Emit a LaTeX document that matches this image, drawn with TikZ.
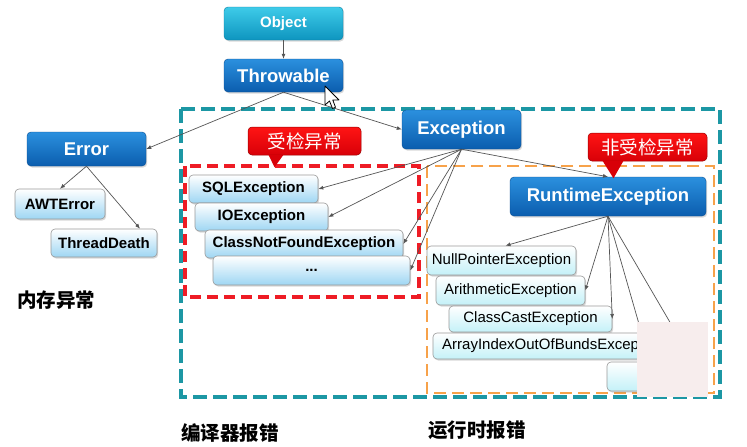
\documentclass[tikz,border=0pt]{standalone}
\usepackage{fontspec}
\setmainfont{Liberation Sans}
\newfontfamily\cjk{Noto Sans CJK SC}
\usetikzlibrary{arrows.meta,shadows,calc}

\definecolor{teal1}{HTML}{1C97A4}
\definecolor{red1}{HTML}{EE1C25}
\definecolor{orange1}{HTML}{F7A24A}
\definecolor{blueT}{HTML}{2B90DE}
\definecolor{blueB}{HTML}{0B5DAE}
\definecolor{cyanT}{HTML}{3ECBE9}
\definecolor{cyanB}{HTML}{0E95BF}
\definecolor{lbB}{HTML}{9ED6F3}
\definecolor{lcB}{HTML}{C4F1F8}
\definecolor{pinkc}{HTML}{F7EDED}
\definecolor{arr}{HTML}{555555}
\definecolor{calT}{HTML}{FF1414}
\definecolor{calB}{HTML}{D80008}
\definecolor{calD}{HTML}{9A0000}

\begin{document}
\begin{tikzpicture}[x=1pt,y=-1pt,
  shad/.style={drop shadow={shadow xshift=1.2pt, shadow yshift=-1.5pt, opacity=0.3}},
  bigbox/.style={rounded corners=4pt, top color=blueT, bottom color=blueB,
    draw=blueB!85!black, line width=0.4pt, text=white, inner sep=0pt, shad,
    font=\fontsize{18.5}{20}\selectfont\bfseries},
  objbox/.style={bigbox, top color=cyanT, bottom color=cyanB, draw=cyanB!85!black,
    font=\fontsize{15}{17}\selectfont\bfseries},
  leftbox/.style={rounded corners=4pt, top color=white, bottom color=lbB,
    draw=gray!80, line width=0.6pt, text=black, inner sep=0pt, shad,
    font=\fontsize{15}{17}\selectfont\bfseries},
  rightbox/.style={leftbox, bottom color=lcB, font=\fontsize{15}{17}\selectfont},
  callout/.style={rounded corners=4pt, top color=calT, bottom color=calB,
    draw=calD, line width=0.5pt,
    text=white, inner sep=0pt, font=\fontsize{18.5}{20}\selectfont\cjk},
  conn/.style={draw=arr, line width=0.7pt, -{Latex[length=5pt,width=4pt]}},
  plainconn/.style={draw=arr, line width=0.7pt},
  tealdash/.style={draw=teal1, line width=3.2pt, dash pattern=on 14pt off 6pt},
  reddash/.style={draw=red1, line width=3.3pt, dash pattern=on 11pt off 6pt},
  orangedash/.style={draw=orange1, line width=2.8pt, dash pattern=on 12pt off 6pt},
  cjklabel/.style={font=\fontsize{19.5}{21}\selectfont\cjk\bfseries, text=black, inner sep=0pt}
]
\useasboundingbox[fill=white] (0,0) rectangle (747,447);

% dashed frames
\draw[tealdash] (181,109) rectangle (720,397);
\draw[reddash] (185,166) rectangle (419,297);
\draw[orangedash] (427,166) rectangle (714,393);

% main nodes
\node[objbox, minimum width=119pt, minimum height=33pt] (obj) at (283.5,23.5) {Object};
\node[bigbox, minimum width=119pt, minimum height=33pt] (thr) at (283.5,75.5) {Throwable};
\node[bigbox, minimum width=119pt, minimum height=34pt] (err) at (86.5,149) {Error};
\node[bigbox, minimum width=119pt, minimum height=39pt] (exc) at (461.5,129.5) {Exception};
\node[bigbox, minimum width=196pt, minimum height=39pt] (rt) at (608,196.5) {RuntimeException};

% error children
\node[leftbox, minimum width=90pt, minimum height=30pt] (awt) at (60,204) {AWTError};
\node[leftbox, minimum width=106pt, minimum height=28pt] (td) at (104,243) {ThreadDeath};

% checked exceptions
\node[leftbox, minimum width=129pt, minimum height=28pt] (sql) at (253.5,189) {SQLException};
\node[leftbox, minimum width=133pt, minimum height=28pt] (io) at (261.5,217) {IOException};
\node[leftbox, minimum width=198pt, minimum height=28pt] (cnf) at (304,244) {ClassNotFoundException};
\node[leftbox, minimum width=197pt, minimum height=29pt] (dots) at (311.5,270.5) {...};

% runtime exceptions
\node[rightbox, minimum width=149pt, minimum height=29pt] (np) at (501.5,260.5) {NullPointerException};
\node[rightbox, minimum width=149pt, minimum height=29pt] (ar) at (510.5,290.5) {ArithmeticException};
\node[rightbox, minimum width=163pt, minimum height=26pt] (cc) at (530.5,319) {ClassCastException};
\node[rightbox, minimum width=262pt, minimum height=26pt] (aio) at (564,346) {};
\node[anchor=west, inner sep=0pt, font=\fontsize{15}{17}\selectfont] (aiot) at (442,346) {ArrayIndexOutOfBundsExcep};
\node[rightbox, minimum width=93pt, minimum height=29pt] (last) at (653.5,376.5) {};

% connectors
\draw[conn] (obj.south) -- (thr.north);
\draw[conn] (thr.south) -- (err.east);
\draw[conn] (thr.south) -- (exc.west);
\draw[conn] (err.south) -- (awt.north);
\draw[conn] (err.south) -- ([xshift=36pt]td.north);
\draw[conn] (exc.south) -- (sql.east);
\draw[conn] (exc.south) -- (io.east);
\draw[conn] (exc.south) -- (cnf.east);
\draw[conn] (exc.south) -- (dots.east);
\draw[conn] (exc.south) -- (rt.north);
\draw[conn] (rt.south) -- ([xshift=4pt]np.north);
\draw[conn] (rt.south) -- (ar.east);
\draw[conn] (rt.south) -- (cc.east);
\coordinate (h1) at (639,324);
\coordinate (h2) at (671,324);
\draw[plainconn] (rt.south) -- (h1);
\draw[plainconn] (rt.south) -- (h2);

% occluding patch
\fill[pinkc] (637,322) rectangle (708,397);

% callouts
\node[callout, minimum width=113pt, minimum height=28pt] (cb1) at (304.5,141) {受检异常};
\fill[calB] ($(cb1.south)+(-36,-0.5)$) -- ($(cb1.south)+(-21,-0.5)$) -- ($(cb1.south)+(-30,12)$) -- cycle;
\node[callout, minimum width=119pt, minimum height=28pt] (cb2) at (647.5,147) {非受检异常};
\fill[calB] ($(cb2.south)+(-45,-0.5)$) -- ($(cb2.south)+(-24,-0.5)$) -- ($(cb2.south)+(-34,17)$) -- cycle;

% labels
\node[cjklabel, anchor=west] (l1) at (17,300) {内存异常};
\node[cjklabel, anchor=west] (l2) at (181,433) {编译器报错};
\node[cjklabel, anchor=west] (l3) at (428,430) {运行时报错};

% mouse cursor
\draw[fill=white, draw=black, line width=0.8pt, line join=round]
  (325,86) -- (325,105) -- (329.5,101) -- (332.5,108.5) -- (335.5,107.3)
  -- (332.8,100) -- (339,100) -- cycle;
\end{tikzpicture}
\end{document}
